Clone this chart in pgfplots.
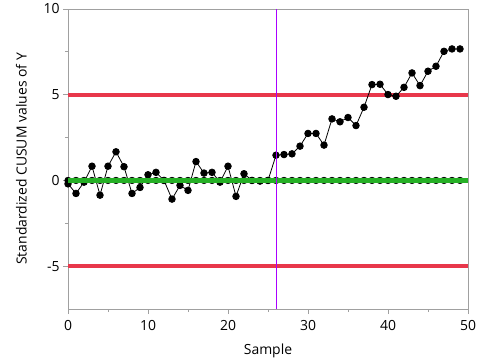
\documentclass[border=0pt]{standalone}
\usepackage{fontspec}
\setmainfont{Open Sans}
\usepackage{pgfplots}
\pgfplotsset{compat=1.18}
\definecolor{axgray}{RGB}{160,160,160}
\definecolor{cred}{RGB}{232,55,75}
\definecolor{cgreen}{RGB}{38,176,38}
\definecolor{cviolet}{RGB}{170,0,255}
\begin{document}
\begin{tikzpicture}
\begin{axis}[
  set layers,
  at={(0,0)}, anchor=south west,
  scale only axis, width=400bp, height=300bp,
  xmin=0, xmax=50, ymin=-7.5, ymax=10,
  xtick={0,10,20,30,40,50},
  minor xtick={5,15,25,35,45},
  ytick={-5,0,5,10},
  minor ytick={-2.5,2.5,7.5},
  tick align=outside,
  major tick length=5bp, minor tick length=3bp,
  axis line style={axgray, line width=0.8bp},
  every tick/.style={axgray, line width=0.8bp},
  tick pos=left,
  /pgf/number format/assume math mode=true,
  ticklabel style={font=\fontsize{14}{16}\selectfont, text=black},
  xticklabel style={yshift=-3bp},
  label style={font=\fontsize{14}{16}\selectfont},
  xlabel={Sample},
  ylabel={Standardized CUSUM values of Y},
  xlabel style={yshift=-6bp},
  ylabel style={yshift=10bp},
  clip=false,
]
\addplot[cred, line width=4bp, forget plot] coordinates {(0,5) (50,5)};
\addplot[cred, line width=4bp, forget plot] coordinates {(0,-5) (50,-5)};
\addplot[black, dashed, line width=0.6bp, mark=*, mark size=3.3bp, mark options={solid}] coordinates {
(0,0)(1,0)(2,0)(3,0)(4,0)(5,0)(6,0)(7,0)(8,0)(9,0)
(10,0)(11,0)(12,0)(13,0)(14,0)(15,0)(16,0)(17,0)(18,0)(19,0)
(20,0)(21,0)(22,0)(23,0)(24,0)(25,0)(26,0)(27,0)(28,0)(29,0)
(30,0)(31,0)(32,0)(33,0)(34,0)(35,0)(36,0)(37,0)(38,0)(39,0)
(40,0)(41,0)(42,0)(43,0)(44,0)(45,0)(46,0)(47,0)(48,0)(49,0)};
\addplot[black, line width=0.8bp, mark=*, mark size=3.3bp] coordinates {
(0,-0.2)(1,-0.76)(2,-0.1)(3,0.83)(4,-0.86)(5,0.83)(6,1.67)(7,0.8)(8,-0.76)(9,-0.41)
(10,0.33)(11,0.47)(12,0.0)(13,-1.09)(14,-0.29)(15,-0.58)(16,1.1)(17,0.43)(18,0.47)(19,-0.1)
(20,0.83)(21,-0.93)(22,0.39)(23,0.0)(24,-0.04)(25,0.0)(26,1.47)(27,1.51)(28,1.55)(29,2.0)
(30,2.74)(31,2.74)(32,2.06)(33,3.59)(34,3.42)(35,3.67)(36,3.2)(37,4.27)(38,5.59)(39,5.61)
(40,5.01)(41,4.91)(42,5.43)(43,6.27)(44,5.53)(45,6.37)(46,6.66)(47,7.53)(48,7.67)(49,7.67)};
\addplot[cgreen, line width=4.5bp, on layer=axis foreground] coordinates {(0,0) (50,0)};
\addplot[cviolet, line width=1bp, on layer=axis foreground] coordinates {(26,-7.5) (26,10)};
\draw[axgray, line width=0.8bp] (rel axis cs:0,1) -- (rel axis cs:1,1) -- (rel axis cs:1,0);
\end{axis}
\pgfresetboundingbox
\path[use as bounding box] (-68bp,-52bp) rectangle (416bp,309bp);
\end{tikzpicture}
\end{document}
